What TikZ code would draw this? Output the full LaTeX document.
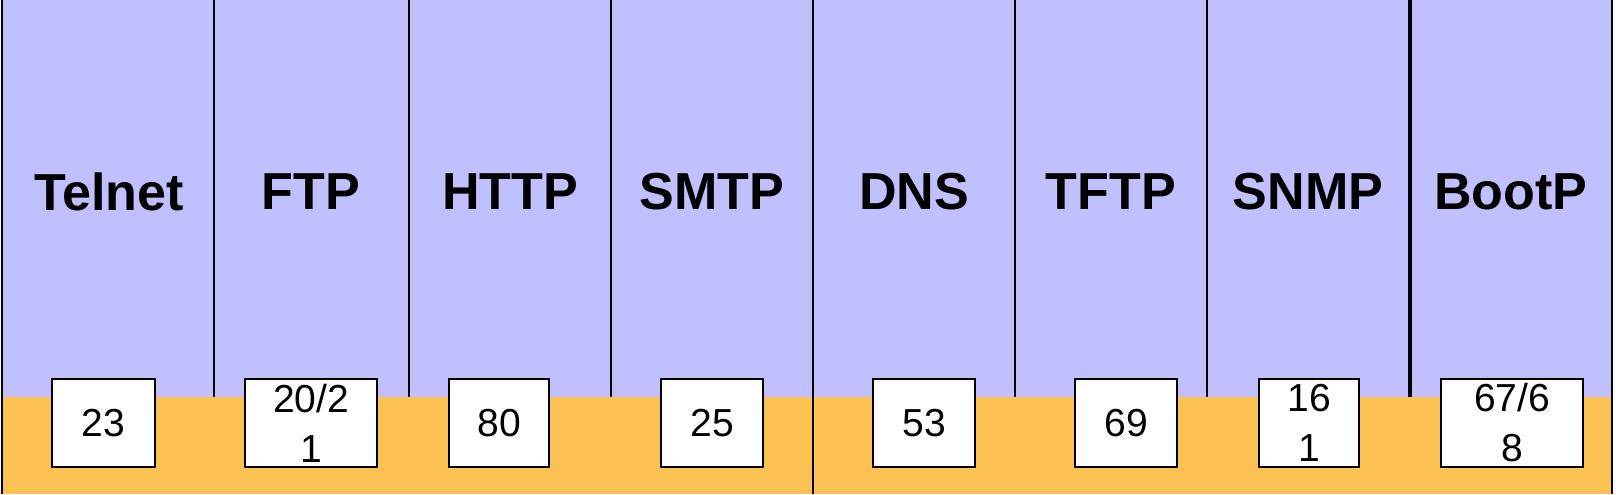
\documentclass[tikz,border=0pt]{standalone}
\usepackage{fontspec}
\setmainfont{Liberation Sans}
\usetikzlibrary{positioning}
\definecolor{LayerPurple}{HTML}{C0C0FF}
\definecolor{LayerOrange}{HTML}{FDC254}

\begin{document}
\begin{tikzpicture}[x=0.01cm, y=-0.01cm,
    proto/.style={font=\fontsize{14.8}{17}\selectfont\bfseries},
    port/.style={draw, line width=0.6pt, fill=white, minimum height=0.88cm, inner sep=0pt, align=center, font=\fontsize{11.1}{14.2}\selectfont}]
    \useasboundingbox (0,0) rectangle (1616,494);

    % Layers
    \fill[LayerPurple] (2,0) rectangle (1612,397);
    \fill[LayerOrange] (2,397) rectangle (1612,494);

    % Column borders
    \foreach \x in {214, 409, 611, 1015, 1207}
        \draw[line width=0.6pt] (\x,0) -- (\x,397);
    \draw[line width=1pt] (1410,0) -- (1410,397);
    \foreach \x in {2, 813, 1612}
        \draw[line width=0.6pt] (\x,0) -- (\x,494);

    % Protocols
    \node[proto] (telnet) at (109,192) {Telnet};
    \node[proto] (ftp) at (311,192) {FTP};
    \node[proto] (http) at (510,192) {HTTP};
    \node[proto] (smtp) at (712,192) {SMTP};
    \node[proto] (dns) at (914,192) {DNS};
    \node[proto] (tftp) at (1111,192) {TFTP};
    \node[proto] (snmp) at (1308,192) {SNMP};
    \node[proto] (bootp) at (1511,192) {BootP};

    % Ports
    \node[port, minimum width=1.03cm] (telnet-port) at (103.5,423) {23};
    \node[port, minimum width=1.32cm] (ftp-port) at (311,423) {20/2\\1};
    \node[port, minimum width=1.00cm] (http-port) at (499,423) {80};
    \node[port, minimum width=1.02cm] (smtp-port) at (712,423) {25};
    \node[port, minimum width=1.02cm] (dns-port) at (924,423) {53};
    \node[port, minimum width=1.02cm] (tftp-port) at (1126,423) {69};
    \node[port, minimum width=1.00cm] (snmp-port) at (1309,423) {16\\1};
    \node[port, minimum width=1.42cm] (bootp-port) at (1512,423) {67/6\\8};
\end{tikzpicture}
\end{document}
